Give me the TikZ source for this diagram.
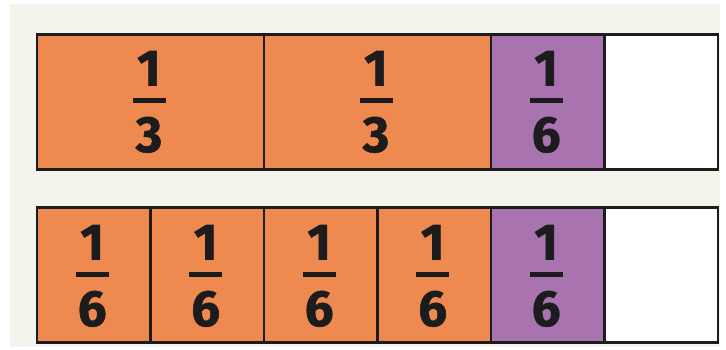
\documentclass[tikz,border=0pt]{standalone}
\usepackage{fontspec}
\setmainfont{Fira Sans}[BoldFeatures={FakeBold=1.2}]
\definecolor{bgcream}{HTML}{F4F3EC}
\definecolor{barorange}{HTML}{EE8A4F}
\definecolor{barpurple}{HTML}{A873AE}
\definecolor{ink}{HTML}{1C1C1E}
\tikzset{
  x=1pt,y=-1pt,
  cell/.style={draw=ink, line width=2.6pt, inner sep=0pt, anchor=north west},
  digit/.style={text=ink, inner sep=0pt, anchor=base, font=\fontsize{51}{51}\selectfont\bfseries},
  fracbar/.style={fill=ink, draw=none, minimum width=33pt, minimum height=5pt, inner sep=0pt}
}
\begin{document}
\begin{tikzpicture}
\useasboundingbox (0,0) rectangle (726,349);
\fill[white] (0,0) rectangle (726,349);
\fill[bgcream] (10,4) rectangle (720,347);
% top bar
\node[cell, fill=barorange, minimum width=227pt, minimum height=135pt] (t1) at (35.5,33) {};
\node[cell, fill=barorange, minimum width=227pt, minimum height=135pt] (t2) at (262.5,33) {};
\node[cell, fill=barpurple, minimum width=113.5pt, minimum height=135pt] (t3) at (489.5,33) {};
\node[cell, fill=white, minimum width=113.5pt, minimum height=135pt] (t4) at (603,33) {};
% bottom bar
\node[cell, fill=barorange, minimum width=113.5pt, minimum height=135pt] (b1) at (35.5,206) {};
\node[cell, fill=barorange, minimum width=113.5pt, minimum height=135pt] (b2) at (149,206) {};
\node[cell, fill=barorange, minimum width=113.5pt, minimum height=135pt] (b3) at (262.5,206) {};
\node[cell, fill=barorange, minimum width=113.5pt, minimum height=135pt] (b4) at (376,206) {};
\node[cell, fill=barpurple, minimum width=113.5pt, minimum height=135pt] (b5) at (489.5,206) {};
\node[cell, fill=white, minimum width=113.5pt, minimum height=135pt] (b6) at (603,206) {};
% fractions top
\foreach \nm/\cx/\den in {ta/149/3, tb/376/3, tc/546.2/6}{
  \node[digit] (\nm n) at (\cx,85.5) {1};
  \node[fracbar] (\nm b) at (\cx,100) {};
  \node[digit] (\nm d) at (\cx,152) {\den};
}
% fractions bottom
\foreach \nm/\cx in {ba/92.2, bb/205.7, bc/319.2, bd/432.7, be/546.2}{
  \node[digit] (\nm n) at (\cx,259.5) {1};
  \node[fracbar] (\nm b) at (\cx,274) {};
  \node[digit] (\nm d) at (\cx,326) {6};
}
\end{tikzpicture}
\end{document}
